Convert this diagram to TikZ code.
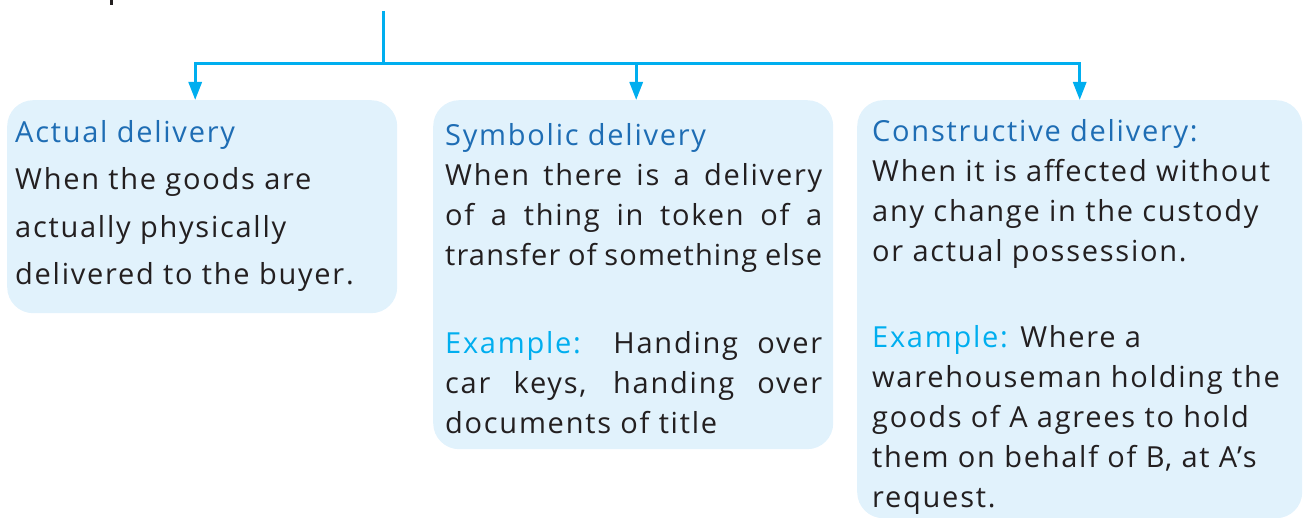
\documentclass[tikz,border=0pt]{standalone}
\usepackage{fontspec}
\setmainfont[LetterSpace=6.0]{Open Sans}
\usetikzlibrary{arrows.meta,positioning}
\definecolor{linkblue}{HTML}{00AEEF}
\definecolor{panelfill}{HTML}{E1F2FC}
\definecolor{headblue}{HTML}{1E6DB4}
\definecolor{bodyblack}{HTML}{231F20}
\newcommand{\panelhead}[1]{\textcolor{headblue}{#1}}
\newcommand{\exlabel}[1]{\textcolor{linkblue}{#1}}
\newcommand{\jline}[1]{\makebox[377pt][s]{#1}}
\tikzset{
  panel/.style={fill=panelfill, rounded corners=26pt, inner sep=0pt, anchor=north west},
  link/.style={draw=linkblue, line width=3pt, -{Triangle[width=13pt,length=18pt]}},
  trunk/.style={draw=linkblue, line width=3pt},
  body/.style={anchor=base west, inner sep=0pt, text=bodyblack, align=left,
    font=\fontsize{29}{40}\selectfont},
}
\begin{document}
\begin{tikzpicture}[x=1pt,y=-1pt]
\useasboundingbox (0,0) rectangle (1306,518);
\fill[bodyblack] (110,0) rectangle (113,5);

% the three panels
\node[panel, minimum width=390pt, minimum height=213pt] (actual) at (7,100) {};
\node[panel, minimum width=400pt, minimum height=349pt] (symbolic) at (433,100) {};
\node[panel, minimum width=445pt, minimum height=418pt] (constructive) at (857,100) {};

% texts, placed at the baseline of their last line
\node[body, font=\fontsize{29}{47.5}\selectfont] (actualtext) at (15,285) {%
\panelhead{Actual delivery}\\
When the goods are\\
actually physically\\
delivered to the buyer.};

\node[body] (symbolictext) at (445,433) {%
\panelhead{Symbolic delivery}\\
\jline{When there is a delivery}\\
\jline{of a thing in token of a}\\
\jline{\addfontfeature{LetterSpace=4.0}transfer of something else}\\[48pt]
\jline{\exlabel{Example:} Handing over}\\
\jline{car keys, handing over}\\
documents of title};

\node[body] (constructivetext) at (872,507) {%
\panelhead{Constructive delivery:}\\
When it is affected without\\
any change in the custody\\
or actual possession.\\[46pt]
\exlabel{Example:} Where a\\
warehouseman holding the\\
goods of A agrees to hold\\
them on behalf of B, at A’s\\
request.};

% connectors
\coordinate (root) at (383,11);
\coordinate (fork) at (383,64);
\draw[trunk] (root) -- (fork);
\draw[link] (fork) -| ([xshift=-7pt]actual.north);
\draw[link] (fork) -| ([xshift=3pt]symbolic.north);
\draw[link] (fork) -| (constructive.north);

\end{tikzpicture}
\end{document}
